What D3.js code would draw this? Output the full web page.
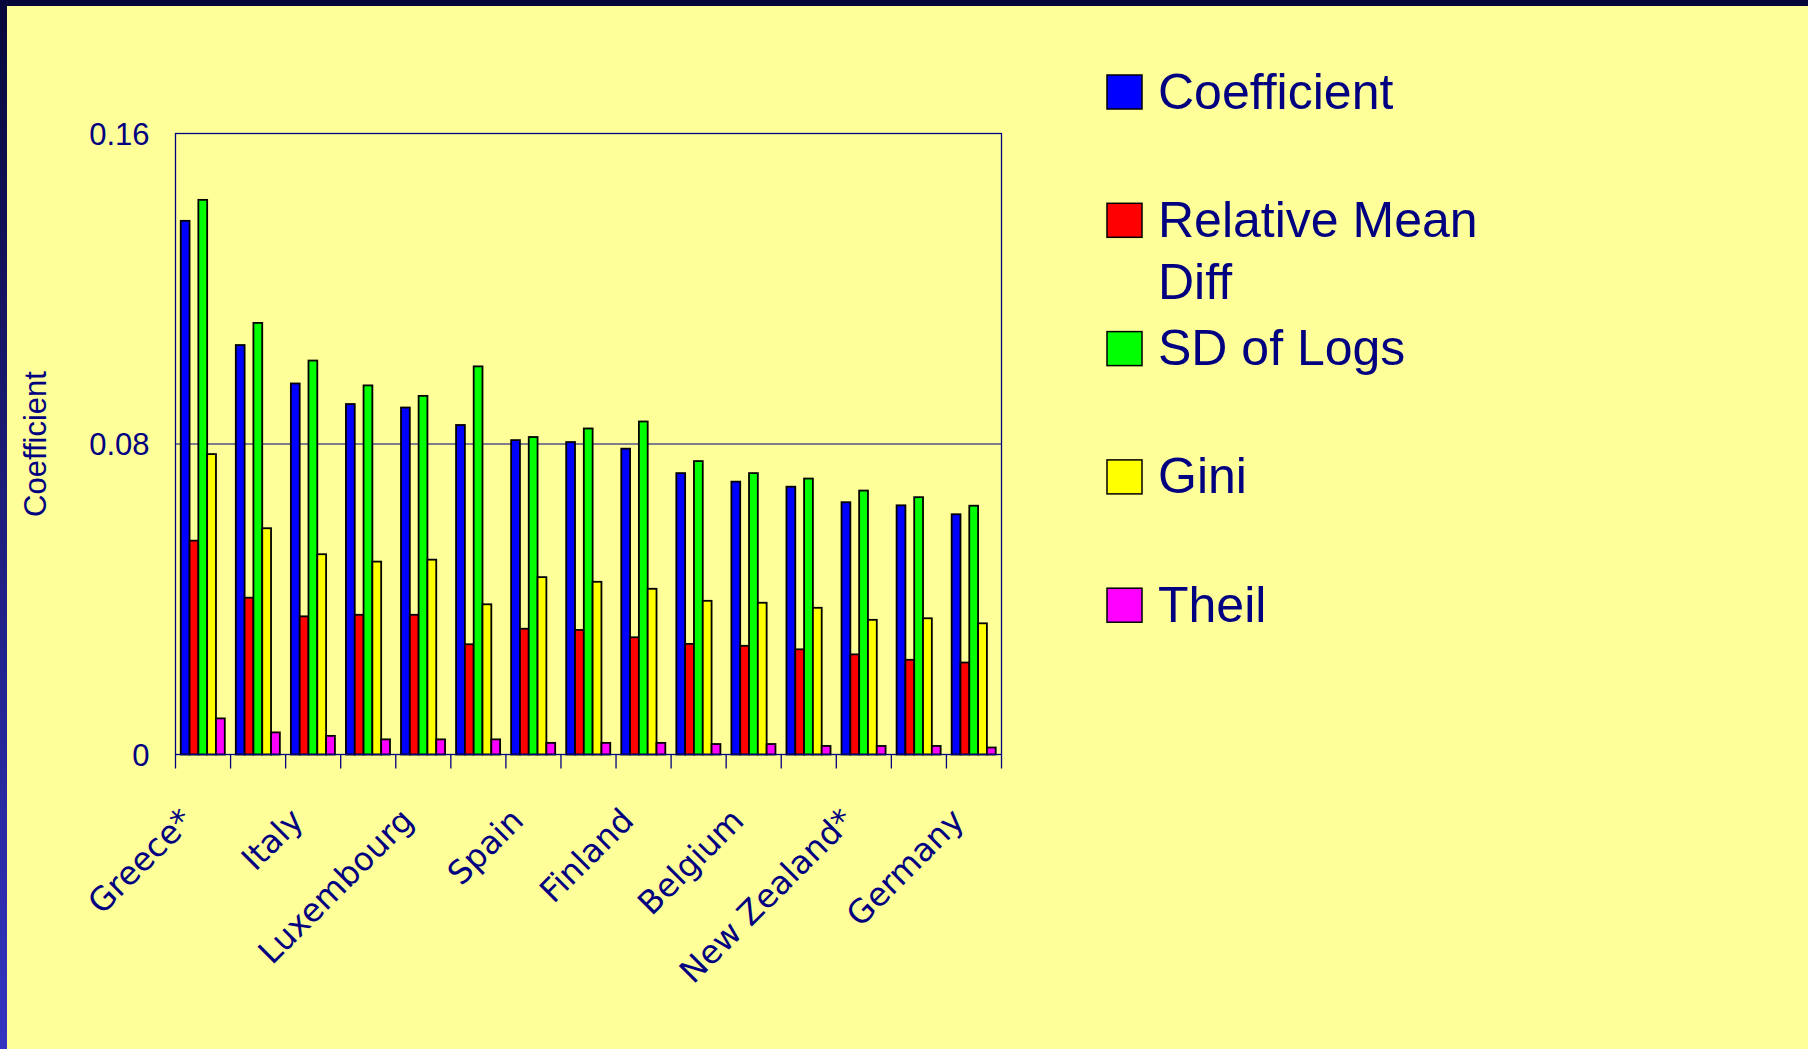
<!DOCTYPE html>
<html>
<head>
<meta charset="utf-8">
<script src="https://cdn.jsdelivr.net/npm/d3@7"></script>
<style>
    body{
        margin: 0;
        overflow: hidden;
        background: #ffff99;
    }
</style>
</head>
<body>
<svg class="inequalityChart"></svg>
<script>
// countries, only every second one carries a label on the axis
const categories = ["Greece*", "", "Italy", "", "Luxembourg", "", "Spain", "",
    "Finland", "", "Belgium", "", "New Zealand*", "", "Germany"];

const seriesNames = ["Coefficient", "Relative Mean Diff", "SD of Logs", "Gini", "Theil"];

const coefficient = [0.1375, 0.1055, 0.0956, 0.0903, 0.0894, 0.0849, 0.0810, 0.0805,
    0.0788, 0.0725, 0.0703, 0.0690, 0.0650, 0.0642, 0.0619];
const relMeanDiff = [0.0551, 0.0404, 0.0356, 0.0360, 0.0360, 0.0284, 0.0324, 0.0321,
    0.0302, 0.0285, 0.0280, 0.0271, 0.0258, 0.0244, 0.0237];
const sdOfLogs = [0.1429, 0.1112, 0.1015, 0.0951, 0.0924, 0.1000, 0.0818, 0.0840,
    0.0858, 0.0756, 0.0725, 0.0711, 0.0680, 0.0663, 0.0641];
const gini = [0.0774, 0.0583, 0.0516, 0.0497, 0.0502, 0.0387, 0.0457, 0.0445,
    0.0427, 0.0396, 0.0391, 0.0378, 0.0347, 0.0351, 0.0338];
const theil = [0.0093, 0.0057, 0.0048, 0.0039, 0.0039, 0.0039, 0.0030, 0.0030,
    0.0030, 0.0027, 0.0027, 0.0022, 0.0022, 0.0022, 0.0018];

const yTicks = [0, 0.08, 0.16];
const yTitle = "Coefficient";

drawChart();

function drawChart(){
    const W = 1808, H = 1049;
    const margin = {top: 133.5, left: 175.5},
    width = 826,
    height = 621;
    const navy = "#000080";
    const colors = ["#0000ff", "#ff0000", "#00ff00", "#ffff00", "#ff00ff"];
    const series = [coefficient, relMeanDiff, sdOfLogs, gini, theil];

    const root = d3.select(".inequalityChart")
        .attr("width", W)
        .attr("height", H);

    // slide background + dark frame
    const grad = root.append("defs").append("linearGradient")
        .attr("id", "sideGrad")
        .attr("x1", 0).attr("y1", 0).attr("x2", 0).attr("y2", 1);
    grad.append("stop").attr("offset", "0%").attr("stop-color", "#07073a");
    grad.append("stop").attr("offset", "100%").attr("stop-color", "#3434c2");

    root.append("rect")
        .attr("width", W).attr("height", H)
        .attr("fill", "#ffff99");
    root.append("rect")
        .attr("width", 7).attr("height", H)
        .attr("fill", "url(#sideGrad)");
    root.append("rect")
        .attr("width", W).attr("height", 6)
        .attr("fill", "#06063a");

    const svg = root.append("g")
        .attr("transform", `translate(${margin.left},${margin.top})`);

    const x0 = d3.scaleBand()
        .domain(d3.range(categories.length))
        .range([0, width]);
    const gw = x0.bandwidth();

    const x1 = d3.scaleBand()
        .domain(d3.range(seriesNames.length))
        .range([gw * 0.095, gw * 0.895]);

    const y = d3.scaleLinear()
        .domain([0, 0.16])
        .range([height, 0]);

    // gridline
    svg.append("line")
        .attr("x1", 0).attr("x2", width)
        .attr("y1", y(0.08)).attr("y2", y(0.08))
        .attr("stroke", navy)
        .attr("stroke-width", 1.2);

    // bars
    const groups = svg.selectAll(".grp")
        .data(categories)
        .enter().append("g")
        .attr("class", "grp")
        .attr("transform", (d, i) => `translate(${x0(i)},0)`);

    groups.selectAll("rect")
        .data((d, i) => series.map((s, k) => ({k: k, v: s[i]})))
        .enter().append("rect")
        .attr("x", d => x1(d.k))
        .attr("width", x1.bandwidth())
        .attr("y", d => y(d.v))
        .attr("height", d => y(0) - y(d.v))
        .attr("fill", d => colors[d.k])
        .attr("stroke", "#000")
        .attr("stroke-width", 1.8);

    // plot frame
    svg.append("rect")
        .attr("width", width)
        .attr("height", height)
        .attr("fill", "none")
        .attr("stroke", navy)
        .attr("stroke-width", 1.3);

    // X axis: ticks between groups
    svg.append("g")
        .attr("transform", `translate(0,${height})`)
        .selectAll("line")
        .data(d3.range(categories.length + 1))
        .enter().append("line")
        .attr("x1", i => i * x0.step())
        .attr("x2", i => i * x0.step())
        .attr("y1", 0)
        .attr("y2", 14)
        .attr("stroke", navy)
        .attr("stroke-width", 1.3);

    svg.selectAll(".xlab")
        .data(categories)
        .enter().append("text")
        .attr("class", "xlab")
        .attr("transform", (d, i) => `translate(${x0(i) + gw / 2 - 8},${height + 68}) rotate(-45)`)
        .attr("text-anchor", "end")
        .style("font-family", "'DejaVu Sans', Verdana, sans-serif")
        .style("font-size", "32.5px")
        .style("fill", navy)
        .text(d => d);

    // Y axis labels
    svg.selectAll(".ylab")
        .data(yTicks)
        .enter().append("text")
        .attr("class", "ylab")
        .attr("x", -26)
        .attr("y", d => y(d))
        .attr("dy", "0.36em")
        .attr("text-anchor", "end")
        .style("font-family", "'Liberation Sans', Arial, sans-serif")
        .style("font-size", "31px")
        .style("fill", navy)
        .text(d => d);

    root.append("text")
        .attr("transform", "translate(46,444) rotate(-90)")
        .attr("text-anchor", "middle")
        .style("font-family", "'Liberation Sans', Arial, sans-serif")
        .style("font-size", "31px")
        .style("fill", navy)
        .text(yTitle);

    // Legend
    const legend = root.selectAll(".legend")
        .data(seriesNames)
        .enter().append("g")
        .attr("class", "legend")
        .attr("transform", (d, i) => `translate(1107,${75 + i * 128.3})`);

    legend.append("rect")
        .attr("width", 35)
        .attr("height", 34)
        .attr("fill", (d, i) => colors[i])
        .attr("stroke", "#000")
        .attr("stroke-width", 1.5);

    const legText = legend.append("text")
        .attr("x", 51)
        .attr("y", 33.5)
        .style("font-family", "'Liberation Sans', Arial, sans-serif")
        .style("font-size", "50px")
        .style("fill", navy);

    // "Relative Mean Diff" wraps onto two lines
    legText.selectAll("tspan")
        .data(d => d === "Relative Mean Diff" ? ["Relative Mean", "Diff"] : [d])
        .enter().append("tspan")
        .attr("x", 51)
        .attr("dy", (d, i) => i === 0 ? 0 : 62.5)
        .text(d => d);
}
</script>
</body>
</html>
